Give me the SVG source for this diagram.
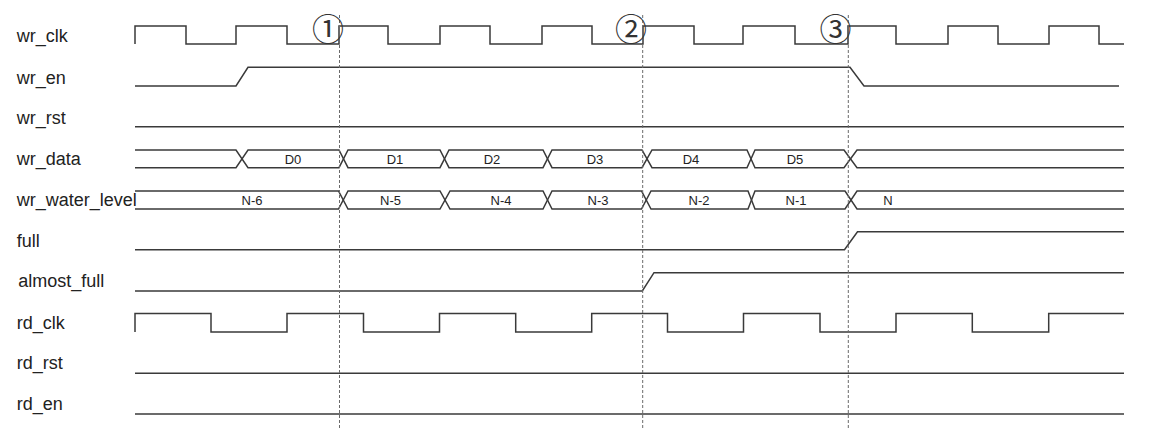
<svg xmlns="http://www.w3.org/2000/svg" width="1151" height="434" viewBox="0 0 1151 434">
<style>
.bg{fill:#ffffff}
.lbl{font-family:"Liberation Sans",Arial,sans-serif;font-size:18px;fill:#222}
.val{font-family:"Liberation Sans",Arial,sans-serif;font-size:13px;fill:#222;text-anchor:middle}
.num{font-family:"Noto Sans CJK SC",sans-serif;font-size:32px;fill:#333;text-anchor:middle}
.sig{fill:none;stroke:#3a3a3a;stroke-width:1.5;stroke-linejoin:miter}
.dash{fill:none;stroke:#6a6a6a;stroke-width:1;stroke-dasharray:3 2}
</style>
<rect class="bg" x="0" y="0" width="1151" height="434"/>
<g id="labels">
<text class="lbl" x="16.7" y="42.3">wr_clk</text>
<text class="lbl" x="16.7" y="83.5">wr_en</text>
<text class="lbl" x="16.7" y="123.5">wr_rst</text>
<text class="lbl" x="16.7" y="165">wr_data</text>
<text class="lbl" x="16.7" y="206">wr_water_level</text>
<text class="lbl" x="16.7" y="246.7">full</text>
<text class="lbl" x="18.3" y="287.3">almost_full</text>
<text class="lbl" x="16.7" y="329">rd_clk</text>
<text class="lbl" x="16.7" y="369.3">rd_rst</text>
<text class="lbl" x="16.7" y="410">rd_en</text>
</g>
<g id="wr_clk">
<path class="sig" d="M135,44 V26 H186 V44 H236 V26 H287 V44 H339 V26 H388 V44 H440 V26 H490 V44 H542 V26 H592 V44 H643 V26 H694 V44 H743 V26 H795 V44 H848 V26 H896 V44 H948 V26 H998 V44 H1049 V26 H1099 V44 H1124"/>
</g>
<g id="wr_en">
<path class="sig" d="M135,86 H236 L248,67.3 H850 L864,86 H1119"/>
</g>
<g id="wr_rst">
<path class="sig" d="M135,126.7 H1124"/>
</g>
<g id="wr_data">
<path class="sig" d="M135,150 H236 L248,167.7 H339 L348,150 H440 L449,167.7 H543 L552,150 H642 L652,167.7 H747 L755,150 H844 L857,167.7 H1124"/>
<path class="sig" d="M135,167.7 H236 L248,150 H339 L348,167.7 H440 L449,150 H543 L552,167.7 H642 L652,150 H747 L755,167.7 H844 L857,150 H1124"/>
<text class="val" x="293" y="164">D0</text>
<text class="val" x="395" y="164">D1</text>
<text class="val" x="492" y="164">D2</text>
<text class="val" x="595" y="164">D3</text>
<text class="val" x="691" y="164">D4</text>
<text class="val" x="795" y="164">D5</text>
</g>
<g id="wr_water_level">
<path class="sig" d="M135,191 H338.5 L348,209 H440 L450,191 H543 L552,209 H641.5 L651,191 H748 L755,209 H845 L857,191 H1124"/>
<path class="sig" d="M135,209 H338.5 L348,191 H440 L450,209 H543 L552,191 H641.5 L651,209 H748 L755,191 H845 L857,209 H1124"/>
<text class="val" x="252" y="205">N-6</text>
<text class="val" x="390.5" y="205">N-5</text>
<text class="val" x="501" y="205">N-4</text>
<text class="val" x="598" y="205">N-3</text>
<text class="val" x="699" y="205">N-2</text>
<text class="val" x="796" y="205">N-1</text>
<text class="val" x="888" y="205">N</text>
</g>
<g id="full">
<path class="sig" d="M135,249.7 H844.5 L857.5,231.7 H1124"/>
</g>
<g id="almost_full">
<path class="sig" d="M135,291 H642.3 L654,272.7 H1124"/>
</g>
<g id="rd_clk">
<path class="sig" d="M135,332 V313.5 H211 V332 H287 V313.5 H363.5 V332 H439.5 V313.5 H515.7 V332 H591.7 V313.5 H667.5 V332 H743.5 V313.5 H820 V332 H896 V313.5 H972.3 V332 H1048.7 V313.5 H1124"/>
</g>
<g id="rd_rst">
<path class="sig" d="M135,373.3 H1124"/>
</g>
<g id="rd_en">
<path class="sig" d="M135,414 H1124"/>
</g>
<g id="markers">
<path class="dash" d="M339.5,15 V430 M642.7,15 V430 M848.3,15 V430"/>
<text class="num" x="328" y="40.5">①</text>
<text class="num" x="631" y="40.5">②</text>
<text class="num" x="835.5" y="40.5">③</text>
</g>
</svg>
